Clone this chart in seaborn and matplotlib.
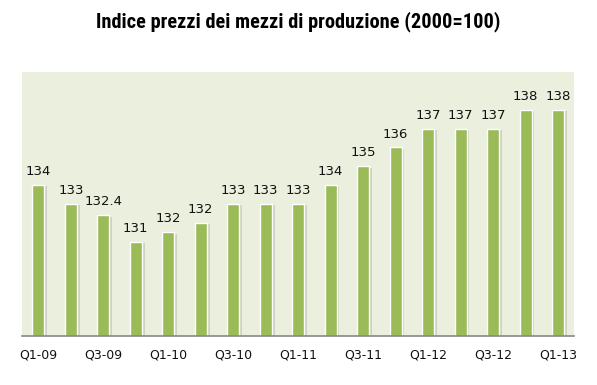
import matplotlib.pyplot as plt
import matplotlib.patheffects as pe
from matplotlib import font_manager
import seaborn as sns
import pandas as pd

# Data
quarters = ['Q1-09', 'Q2-09', 'Q3-09', 'Q4-09', 'Q1-10', 'Q2-10', 'Q3-10', 'Q4-10',
            'Q1-11', 'Q2-11', 'Q3-11', 'Q4-11', 'Q1-12', 'Q2-12', 'Q3-12', 'Q4-12', 'Q1-13']
index_values = [134.0, 133.0, 132.4, 131.0, 131.5, 132.0, 133.0, 133.0,
                133.0, 134.0, 135.0, 136.0, 137.0, 137.0, 137.0, 138.0, 138.0]
value_labels = ['134', '133', '132.4', '131', '132', '132', '133', '133',
                '133', '134', '135', '136', '137', '137', '137', '138', '138']

df = pd.DataFrame({'Trimestre': quarters, 'Indice': index_values})

sns.set_style('white')
plt.rcParams['font.family'] = ['DejaVu Sans']

# pick a narrow font for the title if one is installed
fonts = [(f.name, f.stretch) for f in font_manager.fontManager.ttflist]
names = {n for n, s in fonts}
title_kw = {'family': ['Liberation Sans', 'DejaVu Sans'], 'fontsize': 12}
for narrow in ['Liberation Sans Narrow', 'Arial Narrow', 'Roboto Condensed', 'Open Sans Condensed']:
    if narrow in names:
        title_kw = {'family': [narrow, 'DejaVu Sans'], 'fontsize': 14.7}
        break
else:
    if any(n == 'DejaVu Sans' and s == 'condensed' for n, s in fonts):
        title_kw = {'family': ['DejaVu Sans'], 'fontstretch': 'condensed', 'fontsize': 12}

fig = plt.figure(figsize=(5.97, 3.85), dpi=100)
ax = fig.add_axes([0.037, 0.128, 0.925, 0.685])
ax.set_facecolor('#EBF0DE')

sns.barplot(data=df, x='Trimestre', y='Indice', color='#9BBB59', saturation=1,
            width=0.37, ax=ax)

for bar in ax.patches:
    bar.set_path_effects([pe.SimplePatchShadow(offset=(2, -1), shadow_rgbFace='#BDBDB0', alpha=0.6),
                          pe.Normal()])

ax.set_ylim(126, 140)
ax.set_xlim(-0.5, len(quarters) - 0.5)

# Value labels
for i, (v, lab) in enumerate(zip(index_values, value_labels)):
    ax.text(i, v + 0.36, lab, ha='center', va='bottom', fontsize=9.5, color='#111111')

# Ticks every other quarter
ax.set_xticks(range(0, len(quarters), 2))
ax.set_xticklabels(quarters[::2], fontsize=9, color='#111111')
ax.tick_params(axis='x', length=0, pad=9)
ax.set_yticks([])
ax.set_xlabel('')
ax.set_ylabel('')

for side in ['top', 'right', 'left']:
    ax.spines[side].set_visible(False)
ax.spines['bottom'].set_color('#888888')
ax.spines['bottom'].set_linewidth(1.2)

fig.text(0.5, 0.943, 'Indice prezzi dei mezzi di produzione (2000=100)',
         ha='center', va='center', fontweight='bold', color='black', **title_kw)

fig.savefig('out.png', dpi=100)
